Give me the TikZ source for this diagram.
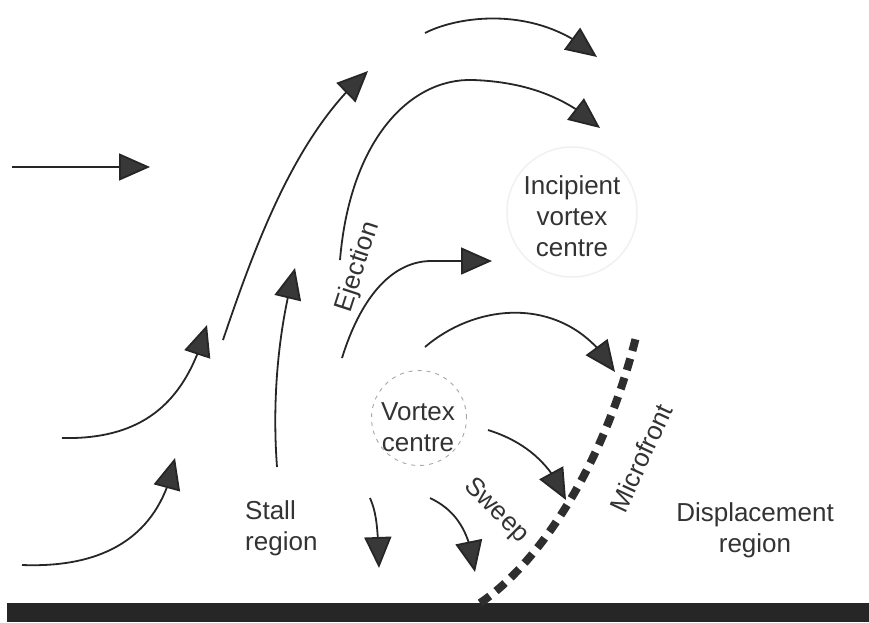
\documentclass[tikz,border=0pt]{standalone}
\usepackage{fontspec}
\setmainfont{Liberation Sans}
\usetikzlibrary{arrows.meta,bending}

\begin{document}
\begin{tikzpicture}[x=1pt,y=-1pt,
flow/.style={line width=1.8pt, draw=black!85, -{Triangle[length=31pt,width=27pt,fill=black!78,flex]}},
lbl/.style={text=black!80, font=\fontsize{26}{31}\selectfont, align=center, inner sep=0pt},
front/.style={line width=8pt, draw=black!82, dash pattern=on 12pt off 8pt},
vortex/.style={circle, draw=black!35, line width=0.9pt, dash pattern=on 4pt off 5pt, minimum size=95pt},
incipient/.style={circle, draw=black!6, line width=1.5pt, minimum size=130pt},
]
\useasboundingbox (0,0) rectangle (869,622);

\node[incipient] (ring1) at (572,212) {};
\node[vortex] (ring2) at (419,418) {};

\node[lbl] (incip) at (572,216) {Incipient\\vortex\\centre};
\node[lbl] (vcentre) at (418,427) {Vortex\\centre};
\node[lbl, align=left, anchor=west] (stall) at (245,528) {Stall\\region};
\node[lbl] (displ) at (755,530) {Displacement\\region};
\node[lbl, rotate=72] (eject) at (358,267) {Ejection};
\node[lbl, rotate=-45] (sweep) at (496,511) {Sweep};
\node[lbl, rotate=65] (micro) at (641,458) {Microfront};

\fill[black!85] (7,603) rectangle (869,622);
\draw[front] (480,603) .. controls (530,570) and (600,480) .. (636,337);

\draw[flow] (12,167) -- (150,167);
\draw[flow] (62,438) .. controls (150,440) and (188,395) .. (207,325);
\draw[flow] (22,565) .. controls (100,568) and (160,540) .. (175,458);
\draw[flow] (223,340) .. controls (260,230) and (300,130) .. (368,71);
\draw[flow] (277,467) .. controls (272,400) and (278,330) .. (295,268);
\draw[flow] (340,260) .. controls (350,140) and (410,78) .. (473,80)
  .. controls (530,82) and (570,100) .. (600,128);
\draw[flow] (342,358) .. controls (360,300) and (390,262) .. (430,261) -- (492,261);
\draw[flow] (425,347) .. controls (480,300) and (570,295) .. (615,372);
\draw[flow] (425,33) .. controls (460,15) and (540,5) .. (597,57);
\draw[flow] (488,430) .. controls (520,440) and (550,460) .. (566,500);
\draw[flow] (370,498) .. controls (375,510) and (378,520) .. (379,568);
\draw[flow] (430,498) .. controls (455,510) and (470,530) .. (475,572);
\end{tikzpicture}
\end{document}
